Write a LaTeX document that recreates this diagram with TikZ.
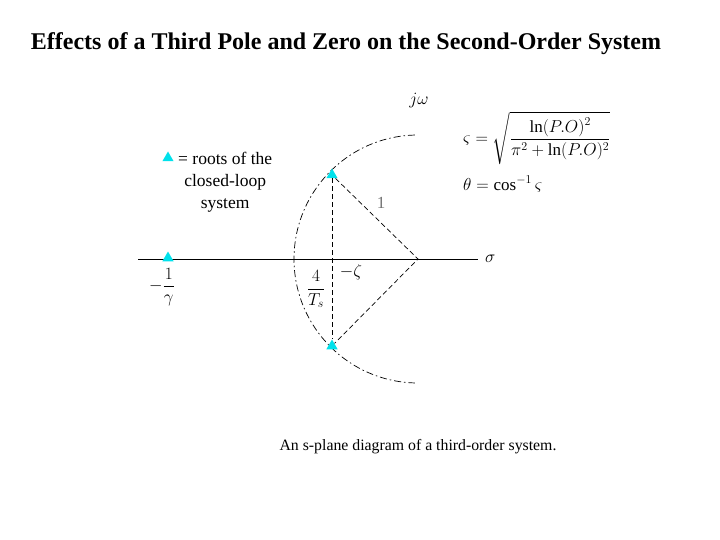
\documentclass[tikz,border=0pt]{standalone}
\usepackage{amsmath}
\usepackage{fontspec}
\setmainfont{Liberation Serif}
\usetikzlibrary{positioning,shapes.geometric}
\definecolor{rootcol}{RGB}{0,225,235}

\begin{document}
\begin{tikzpicture}[x=1pt,y=-1pt,
  root/.style={regular polygon,regular polygon sides=3,fill=rootcol,
    inner sep=0pt,minimum size=13pt},
  guide/.style={line width=0.7pt,dash pattern=on 5pt off 3pt},
  circ/.style={line width=0.7pt,dash pattern=on 7pt off 3pt on 1.5pt off 3pt},
  lbl/.style={font=\fontsize{17}{20}\selectfont,inner sep=1pt}]
  \useasboundingbox (0,0) rectangle (720,540);
  % title
  \node[font=\bfseries\fontsize{24}{28}\selectfont] (title) at (346,44)
    {Effects of a Third Pole and Zero on the Second-Order System};

  % s-plane
  \coordinate (O) at (418,259);
  \coordinate (axL) at (138,259);
  \coordinate (axR) at (478,259);
  \draw[line width=0.8pt] (axL) -- (axR);
  \node[lbl,right=6pt of axR] (sigma) {$\sigma$};
  \node[lbl] (jw) at (419,101) {$j\omega$};

  % circle of constant settling radius
  \draw[circ] (O) ++(268.6:124) arc[start angle=268.6,end angle=91.4,radius=124];

  % roots
  \node[root] (p1) at (332,175) {};
  \node[root] (p2) at (332,346) {};
  \node[root] (p3) at (168,258) {};
  \draw[guide] (p1) -- (p2);
  \draw[guide] (p1) -- (O) -- (p2);

  % labels
  \node[lbl,text=black!55] (one) at (381,203) {1};
  \node[lbl] (zeta) at (351,272) {$-\zeta$};
  \node[lbl] (ts) at (316,289) {$\displaystyle\frac{4}{T_s}$};
  \node[lbl] (gam) at (162,287) {$\displaystyle-\frac{1}{\gamma}$};

  % key
  \node[root] (key) at (168,158) {};
  \node[font=\fontsize{17.5}{22}\selectfont,align=center,anchor=north west,
    inner sep=0pt] (keytxt) at (178,152) {= roots of the\\closed-loop\\system};

  % formulas
  \node[lbl,anchor=west] (zetaeq) at (462,138)
    {$\varsigma=\sqrt{\dfrac{\ln(P.O)^2}{\pi^2+\ln(P.O)^2}}$};
  \node[lbl,anchor=west] (thetaeq) at (462,184) {$\theta=\cos^{-1}\varsigma$};

  % caption
  \node[font=\fontsize{15.8}{19}\selectfont] (caption) at (418,447)
    {An s-plane diagram of a third-order system.};
\end{tikzpicture}
\end{document}
